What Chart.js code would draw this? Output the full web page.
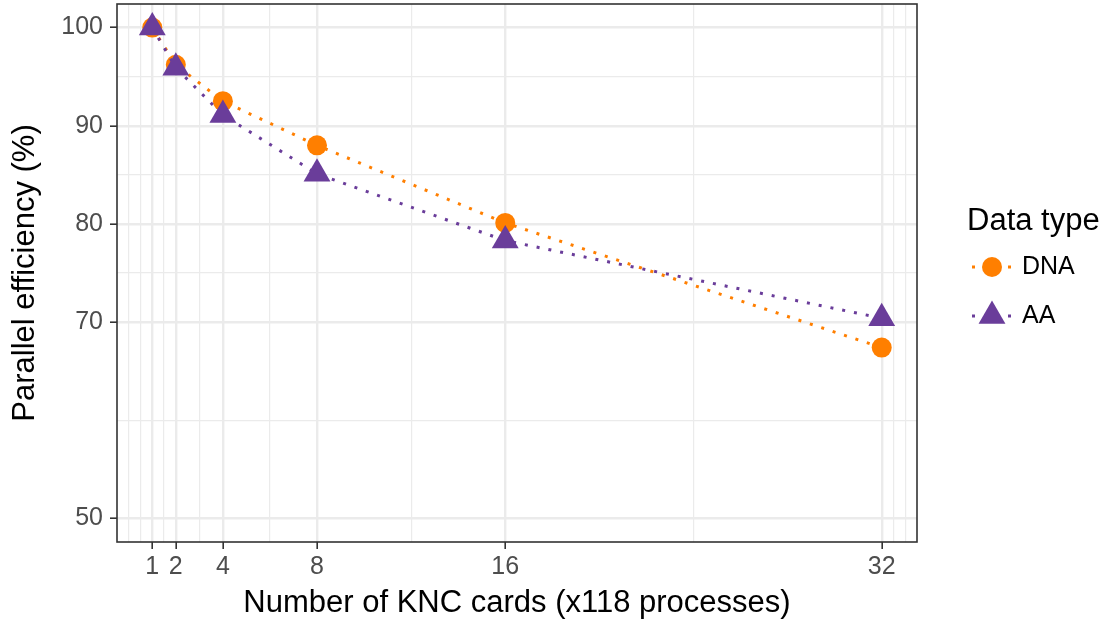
<!DOCTYPE html>
<html>
<head>
<meta charset="utf-8">
<script src="https://cdn.jsdelivr.net/npm/chart.js@4/dist/chart.umd.min.js"></script>
<style>
  html, body { margin: 0; padding: 0; background: #ffffff; }
  #wrap { width: 1108px; height: 623px; position: relative; }
</style>
</head>
<body>
<div id="wrap"><canvas id="c"></canvas></div>
<script>
// Parallel efficiency against the number of KNC cards
const cards = [1, 2, 4, 8, 16, 32];
const dnaEfficiency = [100, 96.2, 92.5, 88.0, 80.1, 67.4];
const aaEfficiency = [100, 95.9, 91.1, 85.1, 78.3, 70.4];
const seriesNames = ['DNA', 'AA'];
const legendTitle = 'Data type';
const xTitle = 'Number of KNC cards (x118 processes)';
const yTitle = 'Parallel efficiency (%)';

// axis breaks
const xMajorTicks = [1, 2, 4, 8, 16, 32];
const xMinorTicks = [0, 0.5, 1.5, 3, 6, 12, 24, 32.5, 33];
const yMajorTicks = [50, 70, 80, 90, 100];
const yMinorTicks = [60, 75, 85, 95];

const FONT = '"Liberation Sans", Arial, Helvetica, sans-serif';
const ORANGE = '#FF7F00';
const PURPLE = '#6A3D9A';
const GRID = '#EBEBEB';
const INK = '#333333';

const toPoints = (ys) => cards.map((x, i) => ({ x, y: ys[i] }));

function withTicks(major, minor) {
  return (scale) => {
    const all = [...major, ...minor].sort((a, b) => a - b);
    scale.ticks = all.map(v => ({ value: v, major: major.includes(v) }));
  };
}

function gridStyle(major) {
  return {
    drawOnChartArea: true,
    drawTicks: true,
    tickLength: 7,
    color: (ctx) => GRID,
    lineWidth: (ctx) => (major.includes(ctx.tick && ctx.tick.value) ? 2.4 : 1.2),
    tickColor: (ctx) => (major.includes(ctx.tick && ctx.tick.value) ? INK : 'rgba(0,0,0,0)'),
    tickWidth: 1.6
  };
}

// panel frame and the legend on the right
const frameAndLegend = {
  id: 'frameAndLegend',
  afterDraw(chart) {
    const { ctx, chartArea: a } = chart;
    ctx.save();
    ctx.strokeStyle = INK;
    ctx.lineWidth = 1.6;
    ctx.strokeRect(a.left, a.top, a.right - a.left, a.bottom - a.top);

    ctx.fillStyle = '#000000';
    ctx.font = '31px ' + FONT;
    ctx.textAlign = 'left';
    ctx.textBaseline = 'alphabetic';
    ctx.fillText(legendTitle, 967, 230);

    const keyX = 992;
    const rows = [267, 316];
    chart.data.datasets.forEach((ds, i) => {
      const y = rows[i];
      ctx.save();
      ctx.strokeStyle = ds.borderColor;
      ctx.lineWidth = ds.borderWidth;
      ctx.setLineDash(ds.borderDash);
      ctx.beginPath();
      ctx.moveTo(972, y);
      ctx.lineTo(1013, y);
      ctx.stroke();
      ctx.restore();

      ctx.fillStyle = ds.pointBackgroundColor;
      const r = ds.pointRadius;
      ctx.beginPath();
      if (ds.pointStyle === 'triangle') {
        ctx.moveTo(keyX, y - r);
        ctx.lineTo(keyX + r * Math.sqrt(3) / 2, y + r / 2);
        ctx.lineTo(keyX - r * Math.sqrt(3) / 2, y + r / 2);
        ctx.closePath();
      } else {
        ctx.arc(keyX, y, r, 0, Math.PI * 2);
      }
      ctx.fill();

      ctx.fillStyle = '#000000';
      ctx.font = '25px ' + FONT;
      ctx.textBaseline = 'middle';
      ctx.fillText(ds.label, 1022, y);
    });
    ctx.restore();
  }
};

new Chart(document.getElementById('c'), {
  type: 'line',
  data: {
    datasets: [
      {
        label: seriesNames[0],
        data: toPoints(dnaEfficiency),
        order: 2,
        borderColor: ORANGE,
        borderWidth: 3,
        borderDash: [3, 9],
        borderCapStyle: 'butt',
        pointStyle: 'circle',
        pointRadius: 10,
        pointBackgroundColor: ORANGE,
        pointBorderWidth: 0,
        tension: 0,
        clip: false
      },
      {
        label: seriesNames[1],
        data: toPoints(aaEfficiency),
        order: 1,
        borderColor: PURPLE,
        borderWidth: 3,
        borderDash: [3, 9],
        borderCapStyle: 'butt',
        pointStyle: 'triangle',
        pointRadius: 15.5,
        pointBackgroundColor: PURPLE,
        pointBorderWidth: 0,
        tension: 0,
        clip: false
      }
    ]
  },
  options: {
    responsive: true,
    maintainAspectRatio: false,
    animation: false,
    devicePixelRatio: 1,
    layout: { autoPadding: false, padding: { left: 0, right: 191, top: 4, bottom: 0 } },
    plugins: { legend: { display: false }, tooltip: { enabled: false } },
    scales: {
      x: {
        type: 'linear',
        min: -0.5,
        max: 33.5,
        afterBuildTicks: withTicks(xMajorTicks, xMinorTicks),
        afterFit: (s) => { s.height = 81; s.paddingLeft = 0; s.paddingRight = 0; },
        grid: gridStyle(xMajorTicks),
        border: { display: false },
        ticks: {
          autoSkip: false,
          maxRotation: 0,
          padding: 3,
          color: '#4D4D4D',
          font: { family: FONT, size: 25 },
          callback: (v) => (xMajorTicks.includes(v) ? String(v) : '')
        },
        title: {
          display: true,
          text: xTitle,
          color: '#000000',
          font: { family: FONT, size: 31 },
          padding: { top: 0, bottom: 1 }
        }
      },
      y: {
        type: 'linear',
        min: 47.6,
        max: 102.4,
        afterBuildTicks: withTicks(yMajorTicks, yMinorTicks),
        afterFit: (s) => { s.width = 117; s.paddingTop = 0; s.paddingBottom = 0; },
        grid: gridStyle(yMajorTicks),
        border: { display: false },
        ticks: {
          autoSkip: false,
          padding: 7,
          color: '#4D4D4D',
          font: { family: FONT, size: 25 },
          callback: (v) => (yMajorTicks.includes(v) ? String(v) : '')
        },
        title: {
          display: true,
          text: yTitle,
          color: '#000000',
          font: { family: FONT, size: 31 },
          padding: { top: 7.3, bottom: 0 }
        }
      }
    }
  },
  plugins: [frameAndLegend]
});
</script>
</body>
</html>
